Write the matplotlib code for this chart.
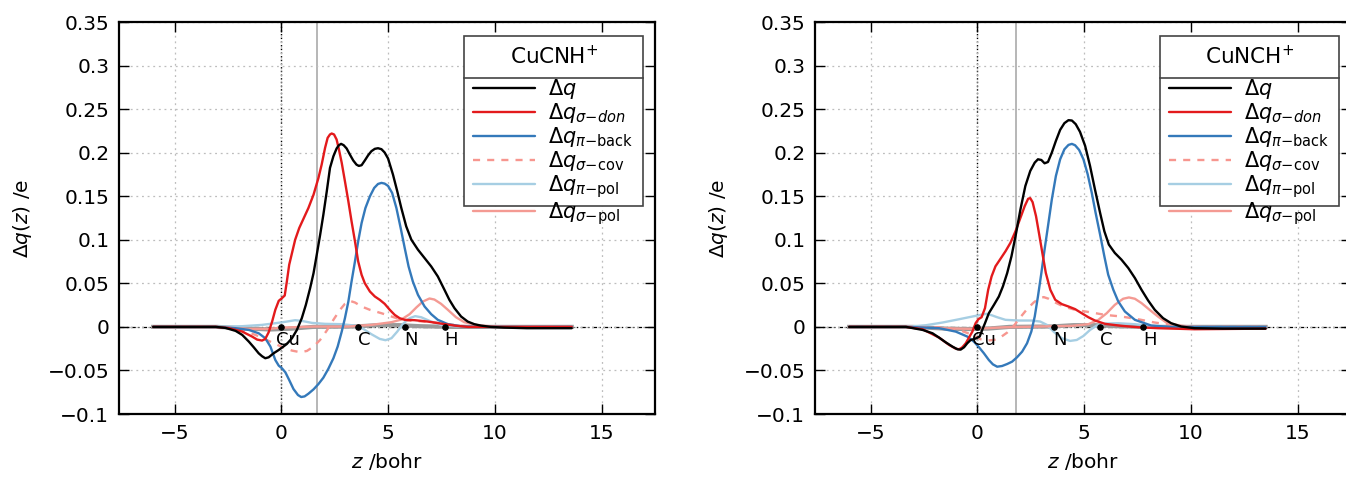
import matplotlib
matplotlib.use("Agg")
import matplotlib.pyplot as plt
from matplotlib.patches import Rectangle
from matplotlib.lines import Line2D

plt.rcParams['font.family'] = ['DejaVu Sans']
plt.rcParams['mathtext.fontset'] = 'dejavusans'

# ---------------- data: CuCNH+ (left) ----------------
L_tot_z = [-6.0, -3.07, -2.61, -2.14, -1.83, -1.52, -1.29, -1.06, -0.90, -0.75, -0.59, -0.36, -0.12, 0.03, 0.26, 0.50,
           0.73, 0.96, 1.15, 1.35, 1.51, 1.66, 1.82, 1.97, 2.13, 2.28, 2.44, 2.59, 2.70, 2.80, 2.92, 3.06, 3.21, 3.37,
           3.52, 3.63, 3.76, 3.91, 4.07, 4.22, 4.38, 4.53, 4.69, 4.84, 5.00, 5.23, 5.43, 5.62, 5.85, 6.09, 6.40, 6.71,
           7.02, 7.33, 7.64, 7.87, 8.11, 8.42, 8.73, 9.04, 9.35, 9.81, 10.43, 11.5, 13.6]
L_tot_q = [0.0, 0.0, -0.0012, -0.0046, -0.0092, -0.0169, -0.0234, -0.0303, -0.0337, -0.0360, -0.0349, -0.0303, -0.0265,
           -0.0238, -0.0196, -0.0130, -0.0035, 0.0100, 0.0253, 0.0445, 0.0617, 0.0828, 0.1058, 0.1288, 0.1557, 0.1825,
           0.1959, 0.2048, 0.2086, 0.2101, 0.2086, 0.2048, 0.1979, 0.1910, 0.1863, 0.1848, 0.1856, 0.1910, 0.1971,
           0.2017, 0.2044, 0.2051, 0.2040, 0.2002, 0.1933, 0.1748, 0.1557, 0.1365, 0.1154, 0.1001, 0.0886, 0.0790,
           0.0694, 0.0579, 0.0426, 0.0311, 0.0215, 0.0119, 0.0061, 0.0031, 0.0015, 0.0, -0.0008, -0.0015, -0.0015]

L_don_z = [-6.0, -3.07, -2.45, -1.83, -1.37, -1.13, -0.90, -0.75, -0.59, -0.43, -0.28, -0.12, 0.03, 0.16, 0.26, 0.37,
           0.50, 0.65, 0.84, 1.04, 1.27, 1.51, 1.74, 1.89, 2.05, 2.17, 2.28, 2.36, 2.47, 2.59, 2.70, 2.83, 2.98, 3.14,
           3.29, 3.45, 3.60, 3.76, 3.91, 4.15, 4.38, 4.61, 4.84, 5.08, 5.31, 5.54, 5.78, 6.24, 6.86, 7.48, 8.11, 8.73, 13.6]
L_don_q = [0.0, 0.0, -0.0015, -0.0054, -0.0111, -0.0146, -0.0157, -0.0138, -0.0061, 0.0061, 0.0196, 0.0299, 0.0330,
           0.0360, 0.0521, 0.0713, 0.0847, 0.1001, 0.1135, 0.1242, 0.1365, 0.1518, 0.1710, 0.1863, 0.2055, 0.2170,
           0.2209, 0.2220, 0.2209, 0.2151, 0.2036, 0.1883, 0.1672, 0.1442, 0.1212, 0.0982, 0.0752, 0.0598, 0.0502,
           0.0406, 0.0349, 0.0311, 0.0265, 0.0196, 0.0138, 0.0100, 0.0081, 0.0077, 0.0061, 0.0038, 0.0015, 0.0, 0.0]

L_back_z = [-6.0, -3.07, -2.14, -1.52, -1.06, -0.75, -0.51, -0.28, -0.12, 0.03, 0.19, 0.37, 0.57, 0.78, 0.93, 1.09,
            1.27, 1.51, 1.74, 1.97, 2.20, 2.44, 2.64, 2.83, 2.98, 3.14, 3.29, 3.45, 3.60, 3.76, 3.94, 4.15, 4.35, 4.53,
            4.69, 4.84, 5.00, 5.19, 5.39, 5.59, 5.78, 5.96, 6.16, 6.40, 6.71, 7.02, 7.33, 7.80, 8.42, 9.04, 13.6]
L_back_q = [0.0, 0.0, -0.0015, -0.0035, -0.0073, -0.0130, -0.0226, -0.0380, -0.0445, -0.0475, -0.0521, -0.0610,
            -0.0713, -0.0782, -0.0805, -0.0798, -0.0767, -0.0717, -0.0656, -0.0583, -0.0483, -0.0360, -0.0226, -0.0054,
            0.0100, 0.0291, 0.0521, 0.0752, 0.0982, 0.1192, 0.1365, 0.1499, 0.1595, 0.1641, 0.1653, 0.1645, 0.1618,
            0.1538, 0.1365, 0.1135, 0.0905, 0.0694, 0.0521, 0.0368, 0.0234, 0.0146, 0.0081, 0.0031, 0.0008, 0.0, 0.0]

L_cov_z = [-6.0, -3.07, -2.45, -1.83, -1.21, -0.59, 0.03, 0.50, 0.89, 1.20, 1.51, 1.82, 2.13, 2.44, 2.75, 2.98, 3.21,
           3.45, 3.76, 4.15, 4.69, 5.31, 5.93, 6.71, 7.48, 8.42, 9.35, 13.6]
L_cov_q = [0.0, 0.0, -0.0012, -0.0038, -0.0092, -0.0161, -0.0230, -0.0272, -0.0291, -0.0276, -0.0226, -0.0149, -0.0042,
           0.0081, 0.0196, 0.0265, 0.0299, 0.0280, 0.0234, 0.0196, 0.0157, 0.0107, 0.0073, 0.0061, 0.0042, 0.0012, 0.0, 0.0]

L_ppol_z = [-6.0, -3.07, -1.83, -0.90, -0.28, 0.26, 0.65, 0.96, 1.43, 2.05, 2.83, 3.45, 3.84, 4.22, 4.61, 4.88, 5.16,
            5.43, 5.70, 6.01, 6.27, 6.55, 6.94, 7.48, 8.11, 9.04, 13.6]
L_ppol_q = [0.0, 0.0, 0.0008, 0.0023, 0.0042, 0.0061, 0.0077, 0.0069, 0.0046, 0.0035, 0.0031, 0.0015, -0.0023, -0.0084,
            -0.0138, -0.0153, -0.0130, -0.0054, 0.0035, 0.0100, 0.0123, 0.0111, 0.0069, 0.0023, 0.0008, 0.0, 0.0]

L_spol_z = [-6.0, -3.07, -1.52, -0.59, 0.03, 1.58, 3.14, 4.22, 5.16, 5.62, 6.01, 6.32, 6.63, 6.94, 7.17, 7.48, 7.80,
            8.18, 8.57, 9.19, 10.12, 13.6]
L_spol_q = [0.0, 0.0, -0.0023, -0.0023, -0.0008, 0.0004, 0.0004, 0.0023, 0.0054, 0.0084, 0.0146, 0.0222, 0.0291,
            0.0326, 0.0314, 0.0265, 0.0196, 0.0111, 0.0054, 0.0019, 0.0, 0.0]

L_rest_z = [-6.0, -3.0, -1.5, -0.5, 0.5, 1.5, 3.5, 4.5, 5.5, 6.5, 8.0, 13.6]
L_rest_q = [0.0, 0.0, -0.002, -0.003, -0.002, 0.0, 0.0005, 0.002, 0.002, 0.0008, 0.0, 0.0]

# ---------------- data: CuNCH+ (right) ----------------
R_tot_z = [-6.0, -3.34, -2.56, -2.10, -1.79, -1.48, -1.16, -0.93, -0.78, -0.62, -0.47, -0.31, -0.08, 0.11, 0.23, 0.36,
           0.54, 0.78, 1.01, 1.20, 1.40, 1.60, 1.79, 2.02, 2.25, 2.48, 2.69, 2.84, 3.00, 3.15, 3.31, 3.49, 3.68, 3.88,
           4.08, 4.27, 4.43, 4.61, 4.81, 5.05, 5.28, 5.51, 5.75, 5.95, 6.16, 6.44, 6.75, 7.07, 7.38, 7.69, 8.00, 8.31,
           8.70, 9.08, 9.55, 10.17, 11.5, 13.5]
R_tot_q = [0.0, 0.0, -0.0035, -0.0073, -0.0123, -0.0177, -0.0227, -0.0257, -0.0261, -0.0234, -0.0188, -0.0150,
           -0.0134, -0.0111, -0.0035, 0.0042, 0.0157, 0.0253, 0.0349, 0.0465, 0.0618, 0.0810, 0.1041, 0.1348, 0.1617,
           0.1790, 0.1886, 0.1924, 0.1916, 0.1878, 0.1893, 0.2001, 0.2135, 0.2262, 0.2339, 0.2373, 0.2369, 0.2327,
           0.2239, 0.2078, 0.1847, 0.1578, 0.1310, 0.1098, 0.0945, 0.0849, 0.0772, 0.0676, 0.0561, 0.0426, 0.0303,
           0.0196, 0.0100, 0.0042, 0.0004, -0.0015, -0.002, -0.002]

R_don_z = [-6.0, -3.34, -2.56, -1.79, -1.32, -1.01, -0.85, -0.70, -0.54, -0.39, -0.23, -0.08, 0.05, 0.20, 0.36, 0.51,
           0.67, 0.85, 1.09, 1.32, 1.55, 1.79, 2.02, 2.22, 2.38, 2.48, 2.59, 2.75, 2.90, 3.06, 3.21, 3.42, 3.65, 3.96,
           4.27, 4.58, 4.89, 5.20, 5.51, 5.98, 6.75, 7.53, 8.46, 10.17, 13.5]
R_don_q = [0.0, 0.0, -0.0027, -0.0123, -0.0207, -0.0250, -0.0257, -0.0234, -0.0188, -0.0123, -0.0054, 0.0042, 0.0088,
           0.0111, 0.0215, 0.0426, 0.0580, 0.0695, 0.0783, 0.0868, 0.0964, 0.1098, 0.1252, 0.1386, 0.1471, 0.1478,
           0.1432, 0.1271, 0.1060, 0.0829, 0.0618, 0.0426, 0.0311, 0.0261, 0.0234, 0.0204, 0.0157, 0.0111, 0.0073,
           0.0035, 0.0012, -0.0004, -0.0015, -0.0027, -0.002]

R_back_z = [-6.0, -3.34, -1.79, -1.01, -0.47, -0.16, 0.08, 0.31, 0.54, 0.73, 0.93, 1.16, 1.40, 1.63, 1.86, 2.10, 2.33,
            2.53, 2.69, 2.84, 3.00, 3.15, 3.31, 3.49, 3.68, 3.88, 4.08, 4.27, 4.43, 4.58, 4.77, 4.97, 5.17, 5.36, 5.54,
            5.75, 5.95, 6.13, 6.37, 6.60, 6.91, 7.38, 8.15, 9.08, 13.5]
R_back_q = [0.0, 0.0, -0.0015, -0.0054, -0.0111, -0.0169, -0.0234, -0.0303, -0.0380, -0.0430, -0.0457, -0.0449,
            -0.0426, -0.0399, -0.0349, -0.0284, -0.0188, -0.0054, 0.0119, 0.0349, 0.0618, 0.0887, 0.1156, 0.1463,
            0.1732, 0.1924, 0.2039, 0.2089, 0.2101, 0.2085, 0.2031, 0.1924, 0.1751, 0.1540, 0.1310, 0.1060, 0.0810,
            0.0599, 0.0426, 0.0292, 0.0177, 0.0081, 0.0015, 0.0, 0.0]

R_cov_z = [-6.0, -3.34, -1.79, -0.85, -0.23, 0.16, 0.47, 0.78, 1.09, 1.40, 1.71, 2.02, 2.33, 2.64, 2.87, 3.11, 3.34,
           3.65, 4.04, 4.58, 5.36, 5.98, 6.75, 7.53, 8.31, 9.08, 10.02, 13.5]
R_cov_q = [0.0, 0.0, -0.0004, -0.0035, -0.0092, -0.0142, -0.0157, -0.0150, -0.0119, -0.0065, 0.0012, 0.0111, 0.0204,
           0.0280, 0.0323, 0.0342, 0.0323, 0.0280, 0.0234, 0.0196, 0.0165, 0.0138, 0.0119, 0.0088, 0.0050, 0.0023, 0.0, 0.0]

R_ppol_z = [-6.0, -3.34, -2.41, -1.63, -0.85, -0.23, 0.16, 0.42, 0.67, 0.93, 1.32, 1.94, 2.56, 2.95, 3.26, 3.57, 3.96,
            4.35, 4.66, 4.97, 5.28, 5.59, 5.98, 6.60, 7.38, 8.15, 9.08, 13.5]
R_ppol_q = [0.0, 0.0, 0.0019, 0.0050, 0.0088, 0.0119, 0.0138, 0.0150, 0.0134, 0.0111, 0.0081, 0.0073, 0.0073, 0.0061,
            0.0023, -0.0054, -0.0131, -0.0161, -0.0150, -0.0104, -0.0035, 0.0015, 0.0038, 0.0042, 0.0031, 0.0012, 0.0, 0.0]

R_spol_z = [-6.0, -3.34, -1.79, -0.23, 1.32, 2.87, 4.43, 5.20, 5.67, 6.06, 6.44, 6.83, 7.10, 7.38, 7.69, 8.07, 8.46,
            8.85, 9.55, 10.33, 13.5]
R_spol_q = [0.0, 0.0, -0.0015, -0.0023, -0.0004, 0.0004, 0.0012, 0.0031, 0.0081, 0.0157, 0.0253, 0.0323, 0.0338,
            0.0323, 0.0273, 0.0196, 0.0119, 0.0050, 0.0012, 0.0, 0.0]

R_rest_z = [-6.0, -3.0, -1.5, -0.5, 0.5, 1.5, 3.5, 4.5, 5.5, 6.5, 8.0, 13.5]
R_rest_q = [0.0, 0.0, -0.002, -0.0025, -0.002, 0.0, 0.0005, 0.002, 0.002, 0.0008, 0.0, 0.0]

# atoms
L_atoms = ["Cu", "C", "N", "H"]
L_atom_z = [0.0, 3.60, 5.78, 7.67]
R_atoms = ["Cu", "N", "C", "H"]
R_atom_z = [0.0, 3.57, 5.76, 7.78]
L_sep_z = 1.69
R_sep_z = 1.79

titles = ["CuCNH$^{+}$", "CuNCH$^{+}$"]
labels = [r"$\Delta q$", r"$\Delta q_{\sigma\mathrm{-}\mathit{don}}$", r"$\Delta q_{\pi\mathrm{-back}}$",
          r"$\Delta q_{\sigma\mathrm{-cov}}$", r"$\Delta q_{\pi\mathrm{-pol}}$", r"$\Delta q_{\sigma\mathrm{-pol}}$"]
yticks = [-0.1, -0.05, 0, 0.05, 0.1, 0.15, 0.2, 0.25, 0.3, 0.35]
ytlabels = ["\u22120.1", "\u22120.05", "0", "0.05", "0.1", "0.15", "0.2", "0.25", "0.3", "0.35"]
xticks = [-5, 0, 5, 10, 15]
xtlabels = ["\u22125", "0", "5", "10", "15"]

C_TOT = "black"
C_DON = "#e31a1c"
C_BACK = "#3479ba"
C_COV = "#f7968f"
C_PPOL = "#a6cee3"
C_SPOL = "#f49a93"

fig = plt.figure(figsize=(13.46, 4.79), dpi=100)
axL = fig.add_axes([119 / 1346, 65 / 479, 536 / 1346, 392 / 479])
axR = fig.add_axes([815 / 1346, 65 / 479, 536 / 1346, 392 / 479])

panels = [
    (axL, (L_tot_z, L_tot_q), (L_don_z, L_don_q), (L_back_z, L_back_q), (L_cov_z, L_cov_q),
     (L_ppol_z, L_ppol_q), (L_spol_z, L_spol_q), (L_rest_z, L_rest_q), L_atoms, L_atom_z, L_sep_z, titles[0]),
    (axR, (R_tot_z, R_tot_q), (R_don_z, R_don_q), (R_back_z, R_back_q), (R_cov_z, R_cov_q),
     (R_ppol_z, R_ppol_q), (R_spol_z, R_spol_q), (R_rest_z, R_rest_q), R_atoms, R_atom_z, R_sep_z, titles[1]),
]

for (ax, tot, don, back, cov, ppol, spol, rest, atoms, atom_z, sep_z, title) in panels:
    ax.set_xlim(-7.6, 17.5)
    ax.set_ylim(-0.1, 0.35)
    ax.set_xticks(xticks)
    ax.set_xticklabels(xtlabels)
    ax.set_yticks(yticks)
    ax.set_yticklabels(ytlabels)
    ax.tick_params(direction="in", length=7, width=1, top=True, right=True, labelsize=14.5, pad=7)
    ax.grid(True, color="#bdbdbd", linestyle=(0, (1.5, 3)), linewidth=0.9)
    for s in ax.spines.values():
        s.set_linewidth(1.6)
    ax.axvline(0, color="black", linestyle=":", linewidth=1.0, zorder=1.5)
    ax.axhline(0, color="black", linestyle=(0, (4, 2, 1, 2)), linewidth=0.9, zorder=1.5)
    ax.axvline(sep_z, color="#aaaaaa", linewidth=1.2, zorder=1.5)

    kw = dict(linewidth=1.7, solid_joinstyle="round", solid_capstyle="round")
    ax.plot(rest[0], rest[1], color="#9a9a9a", linewidth=3.0, zorder=2)
    h_ppol, = ax.plot(ppol[0], ppol[1], color=C_PPOL, zorder=3, **kw)
    h_spol, = ax.plot(spol[0], spol[1], color=C_SPOL, zorder=3, **kw)
    h_cov, = ax.plot(cov[0], cov[1], color=C_COV, linestyle=(0, (3, 3)), linewidth=1.7, zorder=3)
    h_back, = ax.plot(back[0], back[1], color=C_BACK, zorder=4, **kw)
    h_don, = ax.plot(don[0], don[1], color=C_DON, zorder=4, **kw)
    h_tot, = ax.plot(tot[0], tot[1], color=C_TOT, zorder=5, **kw)

    ax.scatter(atom_z, [0] * len(atom_z), s=14, color="black", zorder=6)
    for name, z in zip(atoms, atom_z):
        ax.text(z + 0.3, -0.0045, name, ha="center", va="top", fontsize=13, zorder=6)

    ax.set_xlabel(r"$z$ /bohr", fontsize=14.5, labelpad=6)
    ax.set_ylabel(r"$\Delta q(z)$ /e", fontsize=14.5, labelpad=10)

    # legend box with title compartment
    x0, x1, y0, y1 = 0.644, 0.978, 0.531, 0.964
    ax.add_patch(Rectangle((x0, y0), x1 - x0, y1 - y0, transform=ax.transAxes,
                           facecolor="white", edgecolor="#444444", linewidth=1.2, zorder=7))
    ax.add_line(Line2D([x0, x1], [0.857, 0.857], transform=ax.transAxes, color="#444444",
                       linewidth=1.2, zorder=8))
    ax.text((x0 + x1) / 2, 0.911, title, transform=ax.transAxes, ha="center", va="center",
            fontsize=15.5, zorder=8)
    leg = ax.legend([h_tot, h_don, h_back, h_cov, h_ppol, h_spol], labels,
                    loc="upper left", bbox_to_anchor=(x0 + 0.012, 0.865), frameon=False,
                    fontsize=15, handlelength=3.0, handletextpad=0.6, labelspacing=0.0,
                    borderaxespad=0, borderpad=0.1)
    leg.set_zorder(9)

fig.savefig("out.png", dpi=100)
